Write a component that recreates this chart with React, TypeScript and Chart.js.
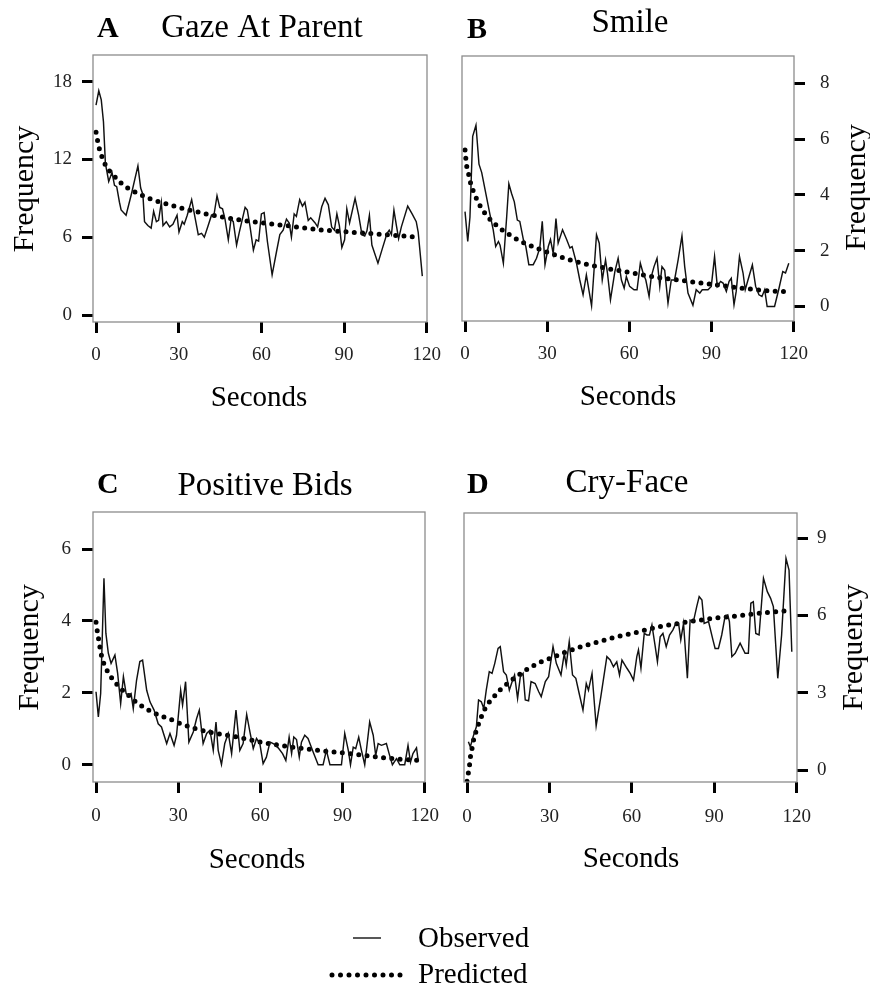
import { useEffect, useRef } from 'react';
import { Chart, registerables } from 'chart.js';

Chart.register(...registerables);

// ---------------- data ----------------
const xTickValues = [0, 30, 60, 90, 120];
const legendLabels = ['Observed', 'Predicted'];
const axisTitles = { x: 'Seconds', y: 'Frequency' };

const gazeTicks = [0, 6, 12, 18];
const smileTicks = [0, 2, 4, 6, 8];
const bidsTicks = [0, 2, 4, 6];
const cryTicks = [0, 3, 6, 9];

// [seconds, frequency]
const gazeObserved = [
  [0, 16.2], [1, 17.3], [1.9, 16.6], [2.7, 14.9], [3.4, 11.7], [4.6, 10.3], [5.8, 11.0], [6.7, 10.0],
  [7.5, 9.9], [8.5, 8.7], [9.1, 8.1], [10.9, 7.7], [12.8, 9.3], [15.2, 11.5], [16.2, 9.8], [17, 9.3],
  [17.6, 7.2], [18.8, 6.9], [20, 6.7], [20.9, 8.0], [21.9, 7.2], [22.7, 7.3], [23.7, 8.7], [24.3, 6.9],
  [25.5, 7.2], [26.7, 6.8], [27.9, 7.0], [29.4, 7.7], [30.1, 6.4], [31.3, 7.2], [32, 7.0], [33.1, 7.7],
  [34.7, 8.9], [35.5, 8.0], [37.1, 6.2], [38.3, 6.3], [39.3, 6.0], [40.7, 6.9], [41.9, 7.7], [42.7, 7.6],
  [43.9, 9.2], [44.9, 8.3], [45.9, 8.2], [46.8, 7.4], [48, 5.8], [49, 7.4], [49.8, 7.2], [51, 5.4],
  [52, 6.4], [54.1, 8.3], [54.9, 8.1], [55.9, 6.8], [57.1, 5.0], [58.1, 5.8], [59, 5.7], [60, 7.8],
  [61, 7.9], [62.2, 5.65], [63.9, 3.1], [65.5, 4.9], [66.7, 6.2], [67.9, 6.55], [69.1, 7.4], [70.1, 7.1],
  [70.9, 6.0], [71.9, 7.8], [72.7, 7.6], [73.9, 8.9], [74.9, 8.4], [75.8, 8.7], [77, 7.3], [77.9, 7.5],
  [79.5, 7.1], [80.4, 6.8], [81.9, 8.35], [83.1, 9.0], [84.3, 8.5], [85.5, 6.8], [86.5, 6.55], [87.4, 7.8],
  [88.3, 6.9], [89.2, 5.2], [90.2, 5.8], [91, 8.2], [92, 7.1], [94, 9.0], [95.3, 7.7], [96.5, 6.2],
  [97.5, 6.1], [98.3, 6.5], [99.2, 7.7], [100.1, 5.4], [102.3, 4.0], [104, 5.2], [105.6, 6.3], [106.4, 6.55],
  [107.2, 6.2], [108.1, 8.1], [109, 6.9], [109.8, 5.9], [110.8, 6.8], [113.1, 8.4], [114.7, 7.8], [116.2, 7.2],
  [116.9, 6.4], [118.4, 3.0],
];
const gazePredicted = [
  [0, 14.1], [1, 13.0], [2, 12.3], [3.6, 11.5], [6, 10.85], [9, 10.2], [12, 9.72], [16, 9.3], [20, 8.93],
  [25, 8.6], [30, 8.3], [40, 7.8], [50, 7.4], [60, 7.12], [70, 6.87], [80, 6.6], [90, 6.43], [100, 6.28],
  [110, 6.12], [117.5, 6.0],
];

const smileObserved = [
  [0, 3.4], [1, 2.33], [1.8, 3.2], [2.8, 6.1], [4, 6.5], [5.1, 5.1], [6.1, 4.8], [7.3, 4.2], [9.1, 3.3],
  [10.3, 2.75], [11.2, 2.15], [12.2, 2.33], [12.8, 2.2], [14, 1.55], [15.2, 3.2], [16, 4.4], [17, 4.05],
  [18, 3.75], [19.1, 3.1], [20, 3.05], [21.3, 2.4], [22.2, 2.15], [23.3, 1.5], [24.9, 1.5], [26.1, 1.73],
  [27.3, 2.1], [28.2, 3.05], [29.2, 1.5], [30.4, 2.15], [31.2, 2.4], [32.2, 1.9], [33.2, 3.15], [34, 2.27],
  [35.6, 2.75], [37.1, 2.4], [38.3, 2.1], [39.1, 2.15], [40.7, 1.55], [41.9, 0.95], [43.1, 0.42], [44.3, 1.13],
  [46.2, 0.02], [48, 2.57], [49, 2.27], [50.1, 0.95], [51.3, 1.67], [52, 1.2], [53.1, 0.24], [54.7, 1.25],
  [55.9, 1.73], [57.1, 0.95], [58.1, 0.66], [58.9, 1.07], [60.1, 0.72], [61.7, 0.6], [62.8, 0.6], [64, 1.55],
  [65, 1.2], [66, 0.95], [67.2, 0.36], [68, 1.07], [69, 1.43], [70.1, 1.73], [71.1, 0.72], [71.9, 1.43],
  [72.9, 1.3], [74.1, 0.12], [75.3, 0.95], [76.5, 0.95], [77.8, 1.67], [79.2, 2.53], [80.2, 1.43], [81.4, 0.48],
  [83.2, 0.04], [84.4, 0.6], [85.7, 0.48], [86.6, 0.6], [88.7, 0.6], [89.9, 0.72], [91.1, 1.79], [92.1, 0.72],
  [93.3, 0.9], [94.2, 0.84], [95.4, 0.54], [96.4, 0.9], [97.2, 1.01], [98.2, 0.06], [99, 0.54], [100.2, 1.79],
  [101.5, 1.2], [102.3, 0.6], [103.3, 0.95], [104.9, 1.49], [106.1, 0.72], [107.3, 0.42], [108.4, 0.36],
  [109.4, 0.6], [110.3, 0], [113, 0], [114.5, 0.6], [116, 1.25], [117, 1.2], [118.2, 1.55],
];
const smilePredicted = [
  [0, 5.61], [0.6, 5.04], [1.3, 4.75], [2, 4.44], [3, 4.14], [4.3, 3.84], [6, 3.52], [8, 3.25], [11, 2.95],
  [14, 2.71], [17, 2.53], [20, 2.35], [25, 2.14], [30, 1.95], [35, 1.77], [40, 1.62], [50, 1.4], [60, 1.22],
  [70, 1.05], [80, 0.92], [90, 0.8], [100, 0.67], [110, 0.57], [117, 0.53],
];

const bidsObserved = [
  [0, 2.03], [0.85, 1.33], [1.7, 1.98], [2.9, 5.19], [3.6, 3.66], [4.5, 3.1], [5.5, 2.82], [6.9, 3.05],
  [7.9, 2.54], [9, 1.7], [10, 2.45], [11, 1.98], [11.8, 1.93], [12.8, 1.98], [13.6, 1.56], [14.8, 2.35],
  [16, 2.87], [17, 2.91], [18.5, 2.07], [19.7, 1.75], [21.2, 1.52], [22.7, 1.14], [23.9, 1.05], [25.8, 0.59],
  [27, 0.87], [28.5, 0.54], [29.4, 0.82], [30.9, 2.07], [31.6, 1.66], [32.7, 2.31], [33.9, 0.63], [35.5, 0.91],
  [36.7, 1.28], [37.7, 1.52], [39.1, 0.59], [40.4, 0.87], [41.6, 0.96], [42.8, 0.4], [43.8, 1.19], [44.6, 0.4],
  [45.8, 0.01], [47, 0.59], [48.3, 0.87], [49.5, 0.31], [51.1, 1.52], [52.5, 0.4], [53.7, 0.59], [55, 1.4],
  [56.2, 0.91], [57.4, 0.45], [58.6, 0.73], [59.8, 0.59], [61, 0.03], [62.2, 0.21], [63.5, 0.63], [64.7, 0.59],
  [66.5, 0.47], [68.1, 0.31], [69.3, 0.12], [70.5, 0.77], [71.4, 0.31], [72.2, 0.77], [73.2, 0.7], [74.2, 0.21],
  [75, 0.63], [76.2, 0.82], [77.4, 0.73], [79.3, 0.35], [81.1, 0], [82.9, 0], [84.1, 0.4], [85.4, 0], [89.6, 0],
  [90.8, 0.87], [92.1, 0.4], [92.9, 0], [93.9, 0.49], [94.8, 0.45], [95.9, 0.77], [96.9, 0.4], [98.1, 0],
  [99.9, 1.19], [101.2, 0.82], [102.1, 0.26], [103, 0.59], [104.2, 0.54], [106, 0.59], [107, 0.31], [108.2, 0],
  [109.7, 0.17], [110.9, 0], [112.7, 0], [113.9, 0.54], [114.8, 0.07], [115.7, 0.31], [117, 0.47], [117.6, 0.12],
];
const bidsPredicted = [
  [0, 3.96], [0.5, 3.7], [1, 3.47], [1.5, 3.24], [2.1, 3.0], [3, 2.79], [4.5, 2.56], [6.6, 2.33], [9, 2.12],
  [12, 1.92], [15, 1.72], [18, 1.57], [21, 1.45], [24, 1.35], [27, 1.27], [30, 1.17], [36, 1.01], [42, 0.9],
  [48, 0.82], [54, 0.73], [60, 0.63], [70, 0.51], [80, 0.41], [90, 0.33], [100, 0.24], [110, 0.16], [118, 0.12],
];

const cryObserved = [
  [0.5, 1.1], [1.2, 0.9], [2.2, 1.29], [3.4, 1.68], [4.2, 2.72], [5.2, 2.65], [6.1, 2.39], [7, 3.1],
  [8.1, 3.82], [9.1, 3.75], [10.1, 4.14], [11.3, 4.72], [12.1, 4.79], [13.3, 3.82], [14.3, 3.69], [15.4, 3.1],
  [16.4, 3.43], [17.3, 3.69], [18.4, 2.78], [19.4, 3.62], [20.4, 3.75], [21.2, 2.72], [22.4, 2.69], [23.3, 3.43],
  [24.8, 3.36], [26.1, 3.04], [27, 2.85], [28.5, 3.43], [29.7, 3.62], [31.3, 4.79], [32.5, 4.14], [34.2, 3.69],
  [35.4, 4.53], [36.1, 4.07], [37.2, 4.98], [38.4, 3.69], [39.6, 3.56], [40.8, 2.98], [42.2, 2.33], [43.4, 3.36],
  [44.2, 3.1], [45.5, 3.75], [47, 1.72], [48.7, 2.85], [50.9, 4.4], [52.1, 4.27], [53.3, 4.01], [54.5, 4.2],
  [55.5, 3.69], [56.4, 4.27], [58.2, 3.95], [59.4, 3.75], [60.6, 3.49], [61.8, 4.4], [62.4, 4.66], [63.3, 3.95],
  [64.5, 5.3], [65.5, 5.24], [66.4, 5.24], [67.3, 5.63], [68.5, 4.79], [69.3, 4.2], [70.3, 5.17], [71.3, 5.3],
  [72.5, 4.79], [73.7, 5.24], [74.9, 5.43], [76, 5.69], [77, 5.69], [77.8, 5.05], [78.8, 5.69], [80.2, 3.56],
  [81.2, 5.82], [82.4, 5.76], [83.6, 6.34], [84.5, 6.73], [85.5, 6.6], [86.3, 5.69], [87.9, 5.76], [89.5, 5.05],
  [90.3, 4.72], [91.5, 4.72], [92.7, 5.24], [93.9, 5.95], [94.9, 6.02], [95.5, 5.76], [96.4, 4.4], [97.6, 4.53],
  [99.4, 4.92], [101.2, 4.53], [102.4, 4.53], [103.3, 6.47], [104.2, 6.53], [105.1, 5.3], [106.3, 5.24],
  [107.9, 7.44], [109.3, 6.92], [110.5, 6.66], [111.5, 6.34], [113.1, 3.56], [114.5, 5.24], [116.1, 8.21],
  [117.2, 7.76], [118.2, 4.59],
];
const cryPredicted = [
  [0, -0.43], [0.5, -0.1], [0.95, 0.22], [1.3, 0.56], [1.9, 0.88], [2.5, 1.23], [3.4, 1.53], [4.4, 1.85],
  [5.6, 2.16], [7, 2.47], [9.5, 2.81], [12.2, 3.13], [15.3, 3.41], [18, 3.63], [21, 3.85], [24, 4.04], [27, 4.2],
  [30, 4.32], [36, 4.58], [42, 4.8], [48, 4.98], [54, 5.16], [60, 5.3], [70, 5.56], [80, 5.74], [90, 5.89],
  [100, 6.0], [110, 6.12], [117, 6.18],
];

// ---------------- layout ----------------
const W = 870;
const H = 989;
const AXW = 60;
const AXH = 50;
const X_MIN = -1.1;
const X_MAX = 120.1;
const SERIF = '"Liberation Serif", "Times New Roman", serif';

type PanelSpec = {
  letter: string;
  title: string;
  observed: number[][];
  predicted: number[][];
  yTicks: number[];
  yMin: number;
  yMax: number;
  yPos: 'left' | 'right';
  box: [number, number, number, number];
  yPad: number;
  xPad: number;
  letterAt: [number, number];
  titleAt: [number, number];
  freqAt: [number, number];
  secAt: [number, number];
  legend?: boolean;
};

const panels: PanelSpec[] = [
  {
    letter: 'A', title: 'Gaze At Parent', observed: gazeObserved, predicted: gazePredicted,
    yTicks: gazeTicks, yMin: -0.54, yMax: 20.06, yPos: 'left', box: [93, 55, 427, 322],
    yPad: 10, xPad: 11, letterAt: [97, 37], titleAt: [262, 37], freqAt: [33, 189], secAt: [259, 406],
  },
  {
    letter: 'B', title: 'Smile', observed: smileObserved, predicted: smilePredicted,
    yTicks: smileTicks, yMin: -0.52, yMax: 8.98, yPos: 'right', box: [462, 56, 794, 321],
    yPad: 15, xPad: 10.5, letterAt: [467, 38], titleAt: [630, 32], freqAt: [865, 187.5], secAt: [628, 405],
  },
  {
    letter: 'C', title: 'Positive Bids', observed: bidsObserved, predicted: bidsPredicted,
    yTicks: bidsTicks, yMin: -0.48, yMax: 7.03, yPos: 'left', box: [93, 512, 425, 782],
    yPad: 11, xPad: 11.5, letterAt: [97, 493], titleAt: [265, 495], freqAt: [38, 647.5], secAt: [257, 868],
  },
  {
    letter: 'D', title: 'Cry-Face', observed: cryObserved, predicted: cryPredicted,
    yTicks: cryTicks, yMin: -0.46, yMax: 9.97, yPos: 'right', box: [464, 513, 797, 782],
    yPad: 9, xPad: 13, letterAt: [467, 493], titleAt: [627, 492], freqAt: [862, 647.5], secAt: [631, 867],
    legend: true,
  },
];

function PanelChart({ p }: { p: PanelSpec }) {
  const ref = useRef<HTMLCanvasElement>(null);

  useEffect(() => {
    const [L, T, R, B] = p.box;
    const padding =
      p.yPos === 'left'
        ? { left: L - AXW, top: T, right: W - R, bottom: H - B - AXH }
        : { left: L, top: T, right: W - R - AXW, bottom: H - B - AXH };

    const decor = {
      id: 'decor',
      afterDatasetsDraw(chart: any) {
        const { ctx, chartArea: ca } = chart;
        ctx.save();
        ctx.strokeStyle = '#8c8c8c';
        ctx.lineWidth = 1.3;
        ctx.strokeRect(ca.left, ca.top, ca.right - ca.left, ca.bottom - ca.top);
        ctx.restore();
      },
      afterDraw(chart: any) {
        const ctx = chart.ctx as CanvasRenderingContext2D;
        ctx.save();
        ctx.fillStyle = '#000';
        ctx.textBaseline = 'alphabetic';
        ctx.font = `bold 30px ${SERIF}`;
        ctx.textAlign = 'left';
        ctx.fillText(p.letter, p.letterAt[0], p.letterAt[1]);
        ctx.font = `33px ${SERIF}`;
        ctx.textAlign = 'center';
        ctx.fillText(p.title, p.titleAt[0], p.titleAt[1]);
        ctx.font = `29px ${SERIF}`;
        ctx.fillText(axisTitles.x, p.secAt[0], p.secAt[1]);
        ctx.save();
        ctx.translate(p.freqAt[0], p.freqAt[1]);
        ctx.rotate(-Math.PI / 2);
        ctx.font = `30px ${SERIF}`;
        ctx.fillText(axisTitles.y, 0, 0);
        ctx.restore();

        if (p.legend) {
          ctx.font = `29px ${SERIF}`;
          ctx.textAlign = 'left';
          ctx.fillText(legendLabels[0], 418, 947);
          ctx.fillText(legendLabels[1], 418, 983);
          ctx.strokeStyle = '#111';
          ctx.lineWidth = 1.4;
          ctx.beginPath();
          ctx.moveTo(353, 938);
          ctx.lineTo(381, 938);
          ctx.stroke();
          ctx.strokeStyle = '#000';
          ctx.lineWidth = 5;
          ctx.lineCap = 'round';
          ctx.setLineDash([0, 8.5]);
          ctx.beginPath();
          ctx.moveTo(332, 975);
          ctx.lineTo(400.5, 975);
          ctx.stroke();
        }
        ctx.restore();
      },
    };

    const tickFont = { family: SERIF, size: 19 };
    const grid = {
      display: true,
      drawOnChartArea: false,
      drawTicks: true,
      tickLength: 11,
      tickWidth: 3,
      tickColor: '#000',
    };

    const chart = new Chart(ref.current as HTMLCanvasElement, {
      type: 'line',
      data: {
        datasets: [
          {
            label: legendLabels[0],
            data: p.observed.map(([x, y]) => ({ x, y })),
            borderColor: '#111',
            borderWidth: 1.45,
            pointRadius: 0,
            tension: 0,
            fill: false,
          },
          {
            label: legendLabels[1],
            data: p.predicted.map(([x, y]) => ({ x, y })),
            borderColor: '#000',
            borderWidth: 5,
            borderDash: [0, 8.3],
            borderCapStyle: 'round',
            pointRadius: 0,
            cubicInterpolationMode: 'monotone',
            fill: false,
          },
        ],
      },
      options: {
        responsive: false,
        animation: false,
        events: [],
        layout: { padding },
        plugins: {
          legend: { display: false },
          tooltip: { enabled: false },
          title: { display: false },
        },
        scales: {
          x: {
            type: 'linear',
            position: 'bottom',
            min: X_MIN,
            max: X_MAX,
            afterFit: (s: any) => {
              s.height = AXH;
            },
            afterBuildTicks: (s: any) => {
              s.ticks = xTickValues.map((v) => ({ value: v }));
            },
            grid,
            border: { display: false },
            ticks: {
              font: tickFont,
              color: '#222',
              padding: p.xPad,
              maxRotation: 0,
              autoSkip: false,
            },
          },
          y: {
            type: 'linear',
            position: p.yPos,
            min: p.yMin,
            max: p.yMax,
            afterFit: (s: any) => {
              s.width = AXW;
            },
            afterBuildTicks: (s: any) => {
              s.ticks = p.yTicks.map((v) => ({ value: v }));
            },
            grid,
            border: { display: false },
            ticks: {
              font: tickFont,
              color: '#222',
              padding: p.yPad,
              autoSkip: false,
            },
          },
        },
      } as any,
      plugins: [decor],
    });

    return () => chart.destroy();
  }, [p]);

  return (
    <canvas
      ref={ref}
      width={W}
      height={H}
      style={{ position: 'absolute', left: 0, top: 0, width: W, height: H }}
    />
  );
}

export default function App() {
  return (
    <div style={{ position: 'absolute', left: 0, top: 0, width: W, height: H, background: '#fff' }}>
      {panels.map((p) => (
        <PanelChart key={p.letter} p={p} />
      ))}
    </div>
  );
}
